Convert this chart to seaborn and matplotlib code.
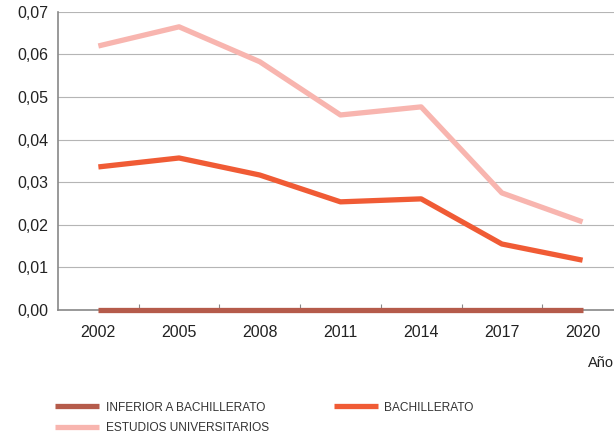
import numpy as np
import pandas as pd
import matplotlib
matplotlib.use("Agg")
import matplotlib.pyplot as plt
import seaborn as sns
from matplotlib.ticker import FuncFormatter, FixedLocator

anios = ["2002", "2005", "2008", "2011", "2014", "2017", "2020"]
inferior = [0.0, 0.0, 0.0, 0.0, 0.0, 0.0, 0.0]
bachillerato = [0.0336, 0.0357, 0.0317, 0.0254, 0.0261, 0.0155, 0.0117]
universitarios = [0.0620, 0.0665, 0.0583, 0.0458, 0.0477, 0.0275, 0.0207]

series = ["INFERIOR A BACHILLERATO", "BACHILLERATO", "ESTUDIOS UNIVERSITARIOS"]
colores = ["#B55B4B", "#F05B35", "#F8B5AF"]

df = pd.DataFrame({
    "anio": anios * 3,
    "valor": inferior + bachillerato + universitarios,
    "nivel": [s for s in series for _ in anios],
})

sns.set_style("white")
plt.rcParams["font.family"] = ["Liberation Sans", "DejaVu Sans"]

fig = plt.figure(figsize=(6.14, 4.41), dpi=100)
ax = fig.add_axes([0.0945, 0.297, 0.92, 0.676])

sns.lineplot(data=df, x="anio", y="valor", hue="nivel", hue_order=series,
             palette=colores, lw=3.8, ax=ax, legend=True, sort=False)
for ln in ax.lines:
    ln.set_solid_capstyle("butt")
    ln.set_zorder(5)
    ln.set_clip_on(False)

ax.set_xlim(-0.5, 6.5)
ax.set_ylim(0, 0.07)
ax.set_yticks(np.arange(0, 0.071, 0.01))
ax.yaxis.set_major_formatter(FuncFormatter(lambda v, p: f"{v:.2f}".replace(".", ",")))
ax.grid(axis="y", color="#b5b5b5", lw=0.8)
ax.set_axisbelow(True)
ax.xaxis.set_minor_locator(FixedLocator(np.arange(0.5, 6, 1)))
ax.tick_params(axis="x", which="major", length=0, pad=11, labelsize=11.5, colors="#222222")
ax.tick_params(axis="x", which="minor", length=4, direction="in", color="#888888", width=0.8, bottom=True)
ax.tick_params(axis="y", length=0, pad=7, labelsize=11.5, colors="#222222")
for s in ["top", "right"]:
    ax.spines[s].set_visible(False)
for s in ["left", "bottom"]:
    ax.spines[s].set_color("#888888")
    ax.spines[s].set_linewidth(1.2)
ax.set_xlabel("")
ax.set_ylabel("")

fig.text(0.957, 0.178, "Año", fontsize=10.5, color="#222222", ha="left", va="center")

handles, labels = ax.get_legend_handles_labels()
ax.get_legend().remove()
orden = [0, 2, 1]
fig.legend([handles[i] for i in orden], [labels[i] for i in orden],
           loc="upper left", bbox_to_anchor=(0.082, 0.1), ncol=2,
           frameon=False, handlelength=3.7, handletextpad=0.55, columnspacing=5.4,
           labelspacing=0.7, borderaxespad=0,
           prop={"family": ["Liberation Sans", "DejaVu Sans"], "size": 8.6},
           labelcolor="#333333")

fig.savefig("out.png", dpi=100)
